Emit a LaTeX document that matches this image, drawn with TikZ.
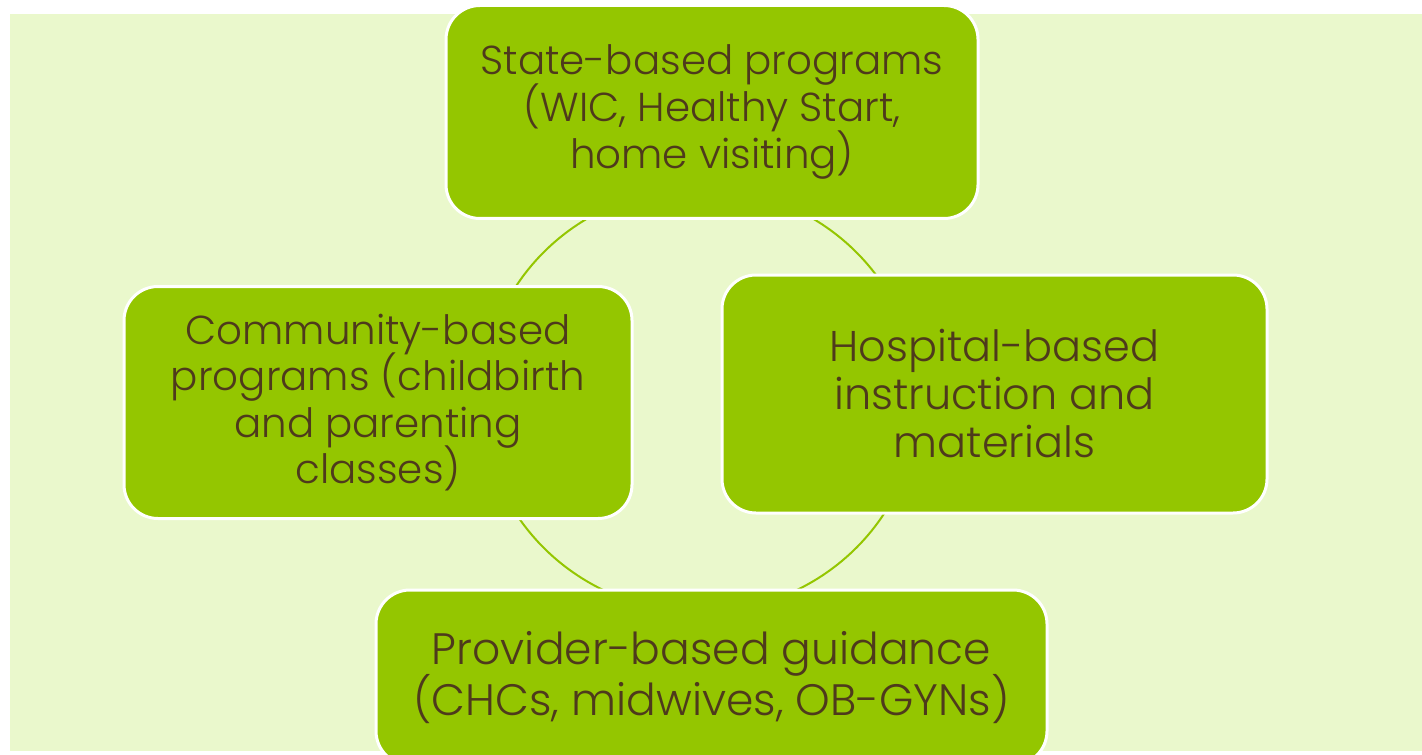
\documentclass[tikz,border=0pt]{standalone}
\usepackage{fontspec}
\setmainfont{Poppins Light}
\definecolor{leaf}{RGB}{148,198,0}
\definecolor{paleleaf}{RGB}{234,248,204}
\definecolor{bark}{RGB}{78,58,28}
\newcommand{\boxfont}[2]{\fontsize{#1}{#2}\selectfont\lineskiplimit -20pt\relax}
\begin{document}
\begin{tikzpicture}[x=0.5pt,y=-0.5pt]
  \tikzstyle{cycle box}=[rounded corners=17pt, fill=leaf, draw=white, line width=1.5pt,
    text=bark, align=center, inner sep=0pt, font=\boxfont{20.2}{23.3}]
  \tikzstyle{ring}=[draw=leaf, line width=1pt]
  \clip (0,0) rectangle (1422,754);
  \fill[paleleaf] (10,14) rectangle (1422,751);
  \coordinate (hub) at (700,400);
  \draw[ring] (hub) ellipse [x radius=109pt, y radius=106pt];
  \node[cycle box, minimum width=266pt, minimum height=106.5pt] (state) at (712,112)
    {State-based programs\\(WIC, Healthy Start,\\home visiting)};
  \node[cycle box, minimum width=272.5pt, minimum height=119pt, font=\boxfont{21.5}{24}]
    (hospital) at (994.5,394)
    {Hospital-based\\instruction and\\materials};
  \node[cycle box, minimum width=335.5pt, minimum height=87.5pt, font=\boxfont{22}{25.5}]
    (provider) at (711.5,677.5)
    {Provider-based guidance\\(CHCs, midwives, OB-GYNs)};
  \node[cycle box, minimum width=254pt, minimum height=116pt] (community) at (378,402.5)
    {Community-based\\programs (childbirth\\and parenting\\classes)};
\end{tikzpicture}
\end{document}
